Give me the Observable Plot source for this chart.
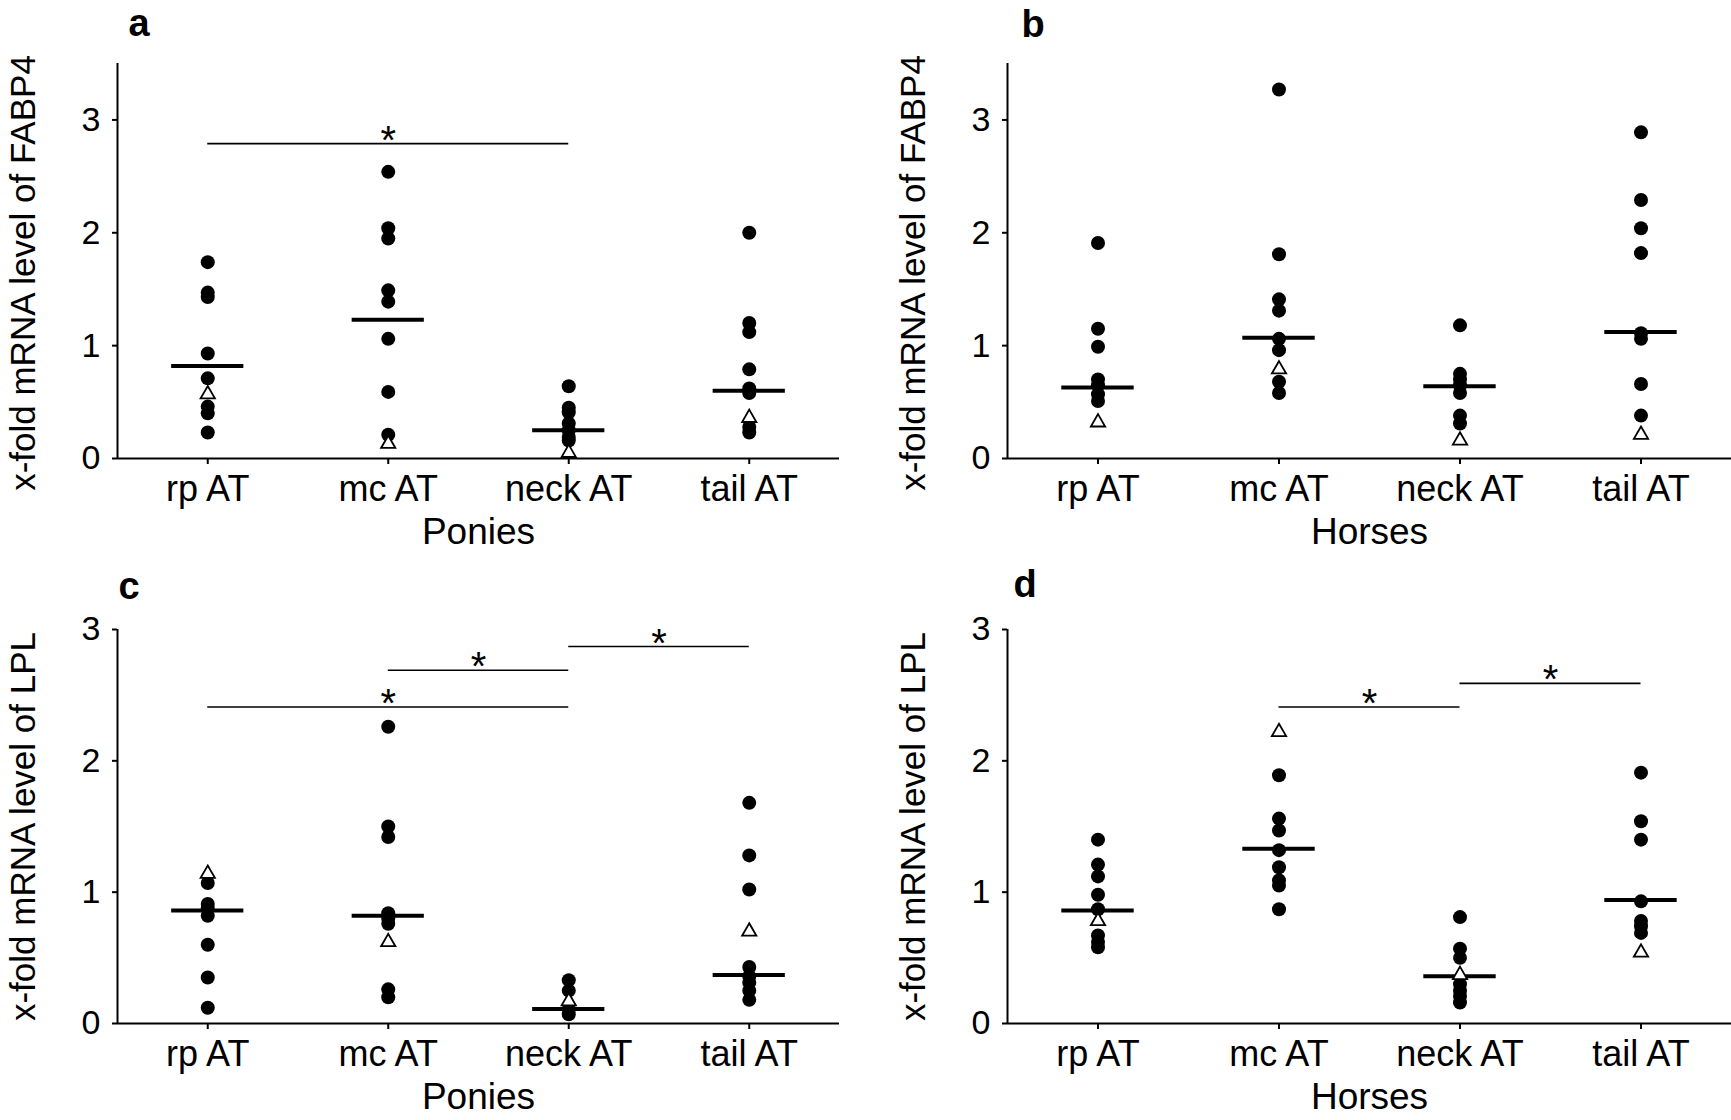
<!DOCTYPE html>
<html>
<head>
<meta charset="utf-8">
<script src="https://cdn.jsdelivr.net/npm/d3@7"></script>
<script src="https://cdn.jsdelivr.net/npm/@observablehq/plot@0.6"></script>
<style>
  html, body { margin: 0; padding: 0; background: #fff; }
  #fig { position: relative; width: 1731px; height: 1120px; overflow: hidden; background: #fff; }
  .panel { position: absolute; }
</style>
</head>
<body>
<div id="fig"></div>
<script>
// ---------- DATA ----------
const categories = ["rp AT", "mc AT", "neck AT", "tail AT"];
const yTicks = [0, 1, 2, 3];
const yTitleFABP4 = "x-fold mRNA level of FABP4";
const yTitleLPL = "x-fold mRNA level of LPL";
const groupPonies = "Ponies";
const groupHorses = "Horses";

// Panel a: FABP4, ponies
const aCircles = [
  [1.74, 1.47, 1.43, 0.93, 0.71, 0.46, 0.40, 0.23],
  [2.54, 2.04, 1.95, 1.49, 1.39, 1.06, 0.59, 0.21],
  [0.64, 0.45, 0.41, 0.31, 0.25, 0.19, 0.16],
  [2.00, 1.20, 1.12, 0.79, 0.62, 0.58, 0.28, 0.23]
];
const aTriangles = [0.57, 0.13, 0.05, 0.36];
const aMedians = [0.82, 1.23, 0.25, 0.60];
const aSignificance = [{from: "rp AT", to: "neck AT", y: 2.79}];

// Panel b: FABP4, horses
const bCircles = [
  [1.91, 1.15, 0.99, 0.70, 0.65, 0.57, 0.51],
  [3.27, 1.81, 1.41, 1.31, 1.06, 0.96, 0.68, 0.58],
  [1.18, 0.75, 0.70, 0.65, 0.58, 0.38, 0.31],
  [2.89, 2.29, 2.04, 1.82, 1.11, 1.06, 0.66, 0.38]
];
const bTriangles = [0.32, 0.79, 0.16, 0.21];
const bMedians = [0.63, 1.07, 0.64, 1.12];
const bSignificance = [];

// Panel c: LPL, ponies
const cCircles = [
  [1.07, 0.91, 0.88, 0.82, 0.60, 0.35, 0.12],
  [2.26, 1.50, 1.42, 0.84, 0.80, 0.76, 0.26, 0.20],
  [0.33, 0.25, 0.11, 0.07],
  [1.68, 1.28, 1.02, 0.43, 0.36, 0.31, 0.25, 0.18]
];
const cTriangles = [1.14, 0.62, 0.17, 0.70];
const cMedians = [0.86, 0.82, 0.11, 0.37];
const cSignificance = [
  {from: "rp AT", to: "neck AT", y: 2.41},
  {from: "mc AT", to: "neck AT", y: 2.69},
  {from: "neck AT", to: "tail AT", y: 2.87}
];

// Panel d: LPL, horses
const dCircles = [
  [1.40, 1.21, 1.12, 0.98, 0.87, 0.67, 0.62, 0.58],
  [1.89, 1.56, 1.47, 1.32, 1.19, 1.09, 1.05, 0.87],
  [0.81, 0.57, 0.50, 0.30, 0.25, 0.21, 0.16],
  [1.91, 1.54, 1.40, 0.93, 0.78, 0.74, 0.69]
];
const dTriangles = [0.78, 2.22, 0.37, 0.54];
const dMedians = [0.86, 1.33, 0.36, 0.94];
const dSignificance = [
  {from: "mc AT", to: "neck AT", y: 2.41},
  {from: "neck AT", to: "tail AT", y: 2.59}
];

// ---------- DRAWING ----------
const FONT = "'Liberation Sans', Arial, Helvetica, sans-serif";
const idx = c => categories.indexOf(c);
const xDomain = [-0.5, categories.length - 0.5];
const medianHalfWidth = 0.2;

function makePanel(cfg) {
  const circleRows = cfg.circles.flatMap((vals, i) => vals.map(v => ({i, v})));
  const triRows = cfg.triangles.map((v, i) => ({i, v}));
  const medRows = cfg.medians.map((v, i) => ({i, v}));
  return Plot.plot({
    width: cfg.width,
    height: 560,
    marginLeft: cfg.marginLeft,
    marginRight: cfg.marginRight,
    marginTop: cfg.marginTop,
    marginBottom: cfg.marginBottom,
    style: {fontFamily: FONT, fontSize: "32px", color: "black", background: "white", overflow: "visible"},
    x: {type: "linear", domain: xDomain},
    y: {domain: [0, cfg.yMax], nice: false},
    marks: [
      Plot.ruleY([0], {stroke: "black", strokeWidth: 2}),
      Plot.ruleX([xDomain[0]], {stroke: "black", strokeWidth: 2}),
      Plot.axisY({ticks: yTicks, tickSize: 5, tickPadding: 12, fontSize: 34, strokeWidth: 2, tickFormat: d3.format("d"), label: null}),
      Plot.axisX({ticks: categories.map((_, i) => i), tickFormat: i => categories[i], tickSize: 6, tickPadding: 11, fontSize: 36, strokeWidth: 2, label: null}),
      Plot.ruleY(cfg.sig, {y: "y", x1: d => idx(d.from), x2: d => idx(d.to), stroke: "black", strokeWidth: 1.6}),
      Plot.text(cfg.sig, {x: d => (idx(d.from) + idx(d.to)) / 2, y: "y", text: () => "*", lineAnchor: "bottom", dy: 10, fontSize: 40}),
      Plot.dot(circleRows, {x: "i", y: "v", r: 7, fill: "black", stroke: "none"}),
      Plot.ruleY(medRows, {y: "v", x1: d => d.i - medianHalfWidth, x2: d => d.i + medianHalfWidth, stroke: "black", strokeWidth: 4}),
      Plot.dot(triRows, {x: "i", y: "v", symbol: "triangle", r: 5.3, fill: "white", stroke: "black", strokeWidth: 1.8}),
      Plot.text([cfg.yTitle], {text: d => d, frameAnchor: "left", textAnchor: "middle", rotate: -90, dx: -94, dy: cfg.yTitleDy, fontSize: 35}),
      Plot.text([cfg.xTitle], {text: d => d, frameAnchor: "bottom", textAnchor: "middle", lineAnchor: "bottom", dy: 85, fontSize: 37}),
      Plot.text([cfg.letter], {text: d => d, frameAnchor: "top-left", textAnchor: "start", lineAnchor: "bottom", dx: cfg.letterDx, dy: cfg.letterDy, fontSize: 38, fontWeight: "bold"})
    ]
  });
}

const fig = document.getElementById("fig");
const panels = [
  {left: 0, top: 0, width: 865, marginLeft: 117, marginRight: 26, marginTop: 63, marginBottom: 102, yMax: 3.5,
   circles: aCircles, triangles: aTriangles, medians: aMedians, sig: aSignificance,
   yTitle: yTitleFABP4, xTitle: groupPonies, letter: "a", letterDx: 11, letterDy: -28, yTitleDy: 12},
  {left: 865, top: 0, width: 866, marginLeft: 142, marginRight: 0, marginTop: 63, marginBottom: 102, yMax: 3.5,
   circles: bCircles, triangles: bTriangles, medians: bMedians, sig: bSignificance,
   yTitle: yTitleFABP4, xTitle: groupHorses, letter: "b", letterDx: 14, letterDy: -27, yTitleDy: 12},
  {left: 0, top: 560, width: 865, marginLeft: 117, marginRight: 26, marginTop: 69, marginBottom: 97, yMax: 3,
   circles: cCircles, triangles: cTriangles, medians: cMedians, sig: cSignificance,
   yTitle: yTitleLPL, xTitle: groupPonies, letter: "c", letterDx: 1, letterDy: -31, yTitleDy: 0},
  {left: 865, top: 560, width: 866, marginLeft: 142, marginRight: 0, marginTop: 69, marginBottom: 97, yMax: 3,
   circles: dCircles, triangles: dTriangles, medians: dMedians, sig: dSignificance,
   yTitle: yTitleLPL, xTitle: groupHorses, letter: "d", letterDx: 6, letterDy: -33, yTitleDy: 0}
];
for (const p of panels) {
  const div = document.createElement("div");
  div.className = "panel";
  div.style.left = p.left + "px";
  div.style.top = p.top + "px";
  div.appendChild(makePanel(p));
  fig.appendChild(div);
}
</script>
</body>
</html>
